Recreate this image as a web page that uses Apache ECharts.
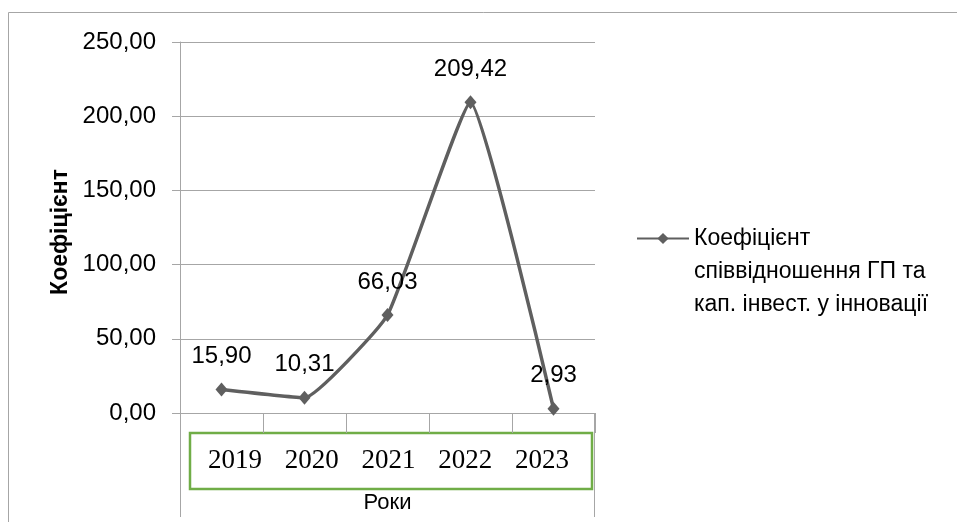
<!DOCTYPE html>
<html>
<head>
<meta charset="utf-8">
<script src="https://cdn.jsdelivr.net/npm/echarts@6/dist/echarts.min.js"></script>
<style>
html,body{margin:0;padding:0;background:#fff;}
#c{width:957px;height:522px;}
</style>
</head>
<body>
<div id="c"></div>
<script>
var categories = ['2019', '2020', '2021', '2022', '2023'];
var values = [15.90, 10.31, 66.03, 209.42, 2.93];
var seriesName = 'Коефіцієнт\nспіввідношення ГП та\nкап. інвест. у інновації';
var yAxisTitle = 'Коефіцієнт';
var xAxisTitle = 'Роки';
var yMin = 0, yMax = 250, yStep = 50;

var W = 957, H = 522;
var gL = 180, gR = 595, gT = 42, gB = 413;
var lineColor = '#5f5f5f';
var gridColor = '#a6a6a6';
var sans = '"Liberation Sans", Arial, sans-serif';
var serif = '"Liberation Serif", "Times New Roman", serif';

function fmt(v) { return v.toFixed(2).replace('.', ','); }

var chart = echarts.init(document.getElementById('c'), null, {renderer: 'canvas'});
chart.setOption({
  animation: false,
  backgroundColor: '#fff',
  grid: [
    {left: gL, right: W - gR, top: gT, bottom: H - gB},
    {left: 235, right: W - 542, top: gT, bottom: H - gB}
  ],
  legend: {
    left: 636, top: 156, padding: 0,
    itemWidth: 52, itemHeight: 14, itemGap: 5,
    data: [seriesName],
    formatter: function (name) { return '\n\n' + name; },
    textStyle: {fontFamily: sans, fontSize: 23, color: '#000', lineHeight: 33}
  },
  xAxis: [
    {
      type: 'category', gridIndex: 0, data: categories, boundaryGap: true,
      axisLine: {lineStyle: {color: gridColor, width: 1}},
      axisTick: {show: true, interval: 0, length: 20, lineStyle: {color: gridColor}},
      axisLabel: {show: false},
      name: xAxisTitle, nameLocation: 'middle', nameGap: 79,
      nameTextStyle: {fontFamily: sans, fontSize: 22, color: '#000'}
    },
    {
      type: 'category', gridIndex: 1, data: categories, boundaryGap: false,
      axisLine: {show: false}, axisTick: {show: false},
      axisLabel: {show: true, interval: 0, margin: 34, fontFamily: serif, fontSize: 27, color: '#000'}
    }
  ],
  yAxis: [
    {
      type: 'value', gridIndex: 0, min: yMin, max: yMax, interval: yStep,
      axisLine: {show: true, lineStyle: {color: gridColor}},
      axisTick: {show: true, length: 8, lineStyle: {color: gridColor}},
      splitLine: {show: true, lineStyle: {color: gridColor, width: 1}},
      axisLabel: {margin: 24, fontFamily: sans, fontSize: 24, color: '#000', formatter: fmt},
      name: yAxisTitle, nameLocation: 'middle', nameGap: 108,
      nameTextStyle: {fontFamily: sans, fontSize: 23, fontWeight: 'bold', color: '#000', padding: [0, 0, 0, -9]}
    },
    {type: 'value', gridIndex: 1, show: false}
  ],
  series: [{
    name: seriesName, type: 'line', xAxisIndex: 0, yAxisIndex: 0,
    data: values, smooth: 0.12,
    symbol: 'diamond', symbolSize: [12, 14],
    lineStyle: {color: lineColor, width: 3.5},
    itemStyle: {color: lineColor},
    label: {show: true, position: 'top', distance: 14, fontFamily: sans, fontSize: 24, color: '#000', formatter: function (p) { return fmt(p.value); }}
  }],
  graphic: [
    {type: 'rect', silent: true, z: -1, shape: {x: 8.5, y: 12.5, width: 2000, height: 2000}, style: {fill: null, stroke: gridColor, lineWidth: 1}},
    {type: 'line', silent: true, shape: {x1: gL + 0.5, y1: gB, x2: gL + 0.5, y2: 517}, style: {stroke: gridColor, lineWidth: 1}},
    {type: 'line', silent: true, shape: {x1: gR - 0.5, y1: gB, x2: gR - 0.5, y2: 517}, style: {stroke: gridColor, lineWidth: 1}},
    {type: 'rect', silent: true, shape: {x: 190, y: 433, width: 402, height: 56}, style: {fill: '#fff', stroke: '#70ad47', lineWidth: 2.5}}
  ]
});
</script>
</body>
</html>
